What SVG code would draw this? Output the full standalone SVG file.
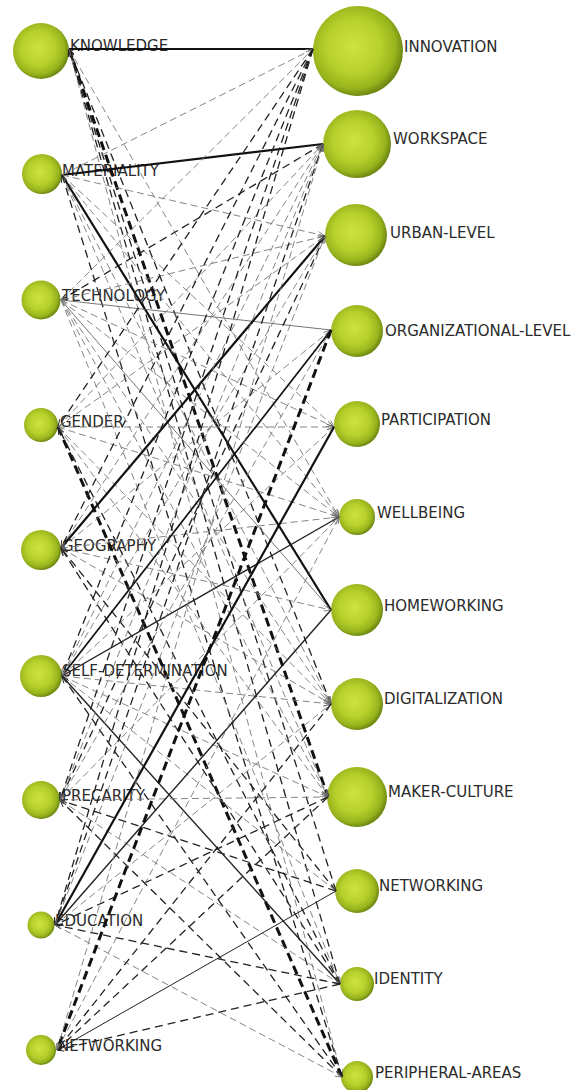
<svg xmlns="http://www.w3.org/2000/svg" width="580" height="1090" viewBox="0 0 580 1090">
  <defs>
    <radialGradient id="ball" cx="45%" cy="45%" r="55%">
      <stop offset="0" stop-color="#cfe340"/>
      <stop offset="0.55" stop-color="#b7d02c"/>
      <stop offset="0.85" stop-color="#98b41c"/>
      <stop offset="1" stop-color="#6f8a12"/>
    </radialGradient>
    <marker id="tipDark" viewBox="0 0 10 8" refX="10" refY="4" markerWidth="8" markerHeight="6" markerUnits="userSpaceOnUse" orient="auto">
      <path d="M0,0 L10,4 L0,8" fill="none" stroke="#222" stroke-width="1.2"/>
    </marker>
    <marker id="tipGray" viewBox="0 0 10 8" refX="10" refY="4" markerWidth="8" markerHeight="6" markerUnits="userSpaceOnUse" orient="auto">
      <path d="M0,0 L10,4 L0,8" fill="none" stroke="#666" stroke-width="1"/>
    </marker>
    <style>
      .node circle { fill: url(#ball); }
      .node text { font-family: "DejaVu Sans", Verdana, sans-serif; font-size: 15px; fill: #2b2b2b; }
      #connectors line { fill: none; }
      .a { stroke: #111; stroke-width: 2.2; }
      .b { stroke: #222; stroke-width: 1.4; }
      .c { stroke: #666; stroke-width: 0.9; }
      .d { stroke: #111; stroke-width: 3; stroke-dasharray: 9 5; }
      .e { stroke: #222; stroke-width: 1.3; stroke-dasharray: 8 5; marker-end: url(#tipDark); }
      .f { stroke: #777; stroke-width: 0.9; stroke-dasharray: 7 4; marker-end: url(#tipGray); }
    </style>
  </defs>

  <rect width="580" height="1090" fill="#ffffff"/>

  <!-- left column -->
  <g id="knowledge" class="node"><circle cx="41" cy="51" r="28"/><text x="70" y="51">KNOWLEDGE</text></g>
  <g id="materiality" class="node"><circle cx="42" cy="174" r="20"/><text x="62" y="176">MATERIALITY</text></g>
  <g id="technology" class="node"><circle cx="41" cy="300" r="19.5"/><text x="62" y="301">TECHNOLOGY</text></g>
  <g id="gender" class="node"><circle cx="41" cy="425" r="17"/><text x="60" y="427">GENDER</text></g>
  <g id="geography" class="node"><circle cx="41" cy="550" r="20"/><text x="62" y="551">GEOGRAPHY</text></g>
  <g id="self-determination" class="node"><circle cx="41" cy="676" r="21"/><text x="62" y="676">SELF-DETERMINATION</text></g>
  <g id="precarity" class="node"><circle cx="41" cy="800" r="19"/><text x="62" y="801">PRECARITY</text></g>
  <g id="education" class="node"><circle cx="41" cy="925" r="13.5"/><text x="55" y="926">EDUCATION</text></g>
  <g id="networking-left" class="node"><circle cx="41" cy="1050" r="15"/><text x="58" y="1051">NETWORKING</text></g>

  <!-- right column -->
  <g id="innovation" class="node"><circle cx="358" cy="51" r="45"/><text x="404" y="52">INNOVATION</text></g>
  <g id="workspace" class="node"><circle cx="357" cy="144" r="34"/><text x="393" y="144">WORKSPACE</text></g>
  <g id="urban-level" class="node"><circle cx="356" cy="235" r="31"/><text x="390" y="238">URBAN-LEVEL</text></g>
  <g id="organizational-level" class="node"><circle cx="357" cy="331" r="26"/><text x="385" y="336">ORGANIZATIONAL-LEVEL</text></g>
  <g id="participation" class="node"><circle cx="357" cy="424" r="23"/><text x="381" y="425">PARTICIPATION</text></g>
  <g id="wellbeing" class="node"><circle cx="357" cy="517" r="18"/><text x="377" y="518">WELLBEING</text></g>
  <g id="homeworking" class="node"><circle cx="357" cy="610" r="26"/><text x="384" y="611">HOMEWORKING</text></g>
  <g id="digitalization" class="node"><circle cx="357" cy="704" r="26"/><text x="384" y="704">DIGITALIZATION</text></g>
  <g id="maker-culture" class="node"><circle cx="357" cy="797" r="30"/><text x="388" y="797">MAKER-CULTURE</text></g>
  <g id="networking-right" class="node"><circle cx="357" cy="891" r="22"/><text x="379" y="891">NETWORKING</text></g>
  <g id="identity" class="node"><circle cx="357" cy="984" r="17"/><text x="374" y="984">IDENTITY</text></g>
  <g id="peripheral-areas" class="node"><circle cx="357" cy="1077" r="16"/><text x="375" y="1078">PERIPHERAL-AREAS</text></g>

  <g id="connectors">
    <!-- knowledge -->
    <line class="a" x1="69" y1="49" x2="313" y2="49"/>
    <line class="f" x1="69" y1="49" x2="339" y2="517"/>
    <line class="e" x1="331" y1="704" x2="69" y2="49"/>
    <line class="d" x1="69" y1="49" x2="328" y2="797"/>
    <line class="e" x1="336" y1="891" x2="69" y2="49"/>
    <line class="e" x1="340" y1="984" x2="69" y2="49"/>
    <line class="f" x1="69" y1="49" x2="342" y2="1077"/>
    <!-- materiality -->
    <line class="a" x1="62" y1="175" x2="323" y2="144"/>
    <line class="a" x1="62" y1="175" x2="331" y2="610"/>
    <line class="f" x1="62" y1="175" x2="313" y2="49"/>
    <line class="f" x1="62" y1="175" x2="325" y2="236"/>
    <line class="f" x1="62" y1="175" x2="334" y2="427"/>
    <line class="f" x1="62" y1="175" x2="339" y2="517"/>
    <line class="f" x1="62" y1="175" x2="331" y2="704"/>
    <line class="f" x1="62" y1="175" x2="328" y2="797"/>
    <line class="e" x1="342" y1="1077" x2="62" y2="175"/>
    <!-- technology -->
    <line class="c" x1="61" y1="300" x2="331" y2="330"/>
    <line class="e" x1="323" y1="144" x2="61" y2="300"/>
    <line class="f" x1="61" y1="300" x2="313" y2="49"/>
    <line class="f" x1="61" y1="300" x2="325" y2="236"/>
    <line class="f" x1="61" y1="300" x2="334" y2="427"/>
    <line class="f" x1="61" y1="300" x2="339" y2="517"/>
    <line class="c" x1="61" y1="300" x2="331" y2="610"/>
    <line class="f" x1="61" y1="300" x2="331" y2="704"/>
    <line class="f" x1="61" y1="300" x2="328" y2="797"/>
    <line class="f" x1="61" y1="300" x2="340" y2="984"/>
    <!-- gender -->
    <line class="d" x1="58" y1="427" x2="342" y2="1077"/>
    <line class="f" x1="58" y1="427" x2="334" y2="427"/>
    <line class="e" x1="313" y1="49" x2="58" y2="427"/>
    <line class="f" x1="58" y1="427" x2="323" y2="144"/>
    <line class="f" x1="58" y1="427" x2="325" y2="236"/>
    <line class="f" x1="58" y1="427" x2="339" y2="517"/>
    <line class="f" x1="58" y1="427" x2="331" y2="704"/>
    <line class="f" x1="58" y1="427" x2="328" y2="797"/>
    <line class="e" x1="340" y1="984" x2="58" y2="427"/>
    <!-- geography -->
    <line class="a" x1="61" y1="548" x2="325" y2="236"/>
    <line class="e" x1="313" y1="49" x2="61" y2="548"/>
    <line class="f" x1="61" y1="548" x2="323" y2="144"/>
    <line class="f" x1="61" y1="548" x2="331" y2="330"/>
    <line class="f" x1="61" y1="548" x2="339" y2="517"/>
    <line class="f" x1="61" y1="548" x2="331" y2="610"/>
    <line class="f" x1="61" y1="548" x2="331" y2="704"/>
    <line class="e" x1="336" y1="891" x2="61" y2="548"/>
    <line class="e" x1="340" y1="984" x2="61" y2="548"/>
    <!-- self-determination -->
    <line class="a" x1="62" y1="676" x2="331" y2="330" style="stroke-width:1.7"/>
    <line class="b" x1="62" y1="676" x2="339" y2="517"/>
    <line class="b" x1="62" y1="676" x2="340" y2="984"/>
    <line class="e" x1="313" y1="49" x2="62" y2="676"/>
    <line class="f" x1="62" y1="676" x2="323" y2="144"/>
    <line class="f" x1="62" y1="676" x2="325" y2="236"/>
    <line class="f" x1="62" y1="676" x2="334" y2="427"/>
    <line class="f" x1="62" y1="676" x2="331" y2="704"/>
    <line class="f" x1="62" y1="676" x2="328" y2="797"/>
    <line class="f" x1="62" y1="676" x2="336" y2="891"/>
    <line class="e" x1="342" y1="1077" x2="62" y2="676"/>
    <!-- precarity -->
    <line class="f" x1="60" y1="800" x2="328" y2="797"/>
    <line class="e" x1="336" y1="891" x2="60" y2="800"/>
    <line class="e" x1="313" y1="49" x2="60" y2="800"/>
    <line class="f" x1="60" y1="800" x2="323" y2="144"/>
    <line class="e" x1="325" y1="236" x2="60" y2="800"/>
    <line class="f" x1="60" y1="800" x2="331" y2="330"/>
    <line class="f" x1="60" y1="800" x2="339" y2="517"/>
    <line class="e" x1="342" y1="1077" x2="60" y2="800"/>
    <line class="f" x1="60" y1="800" x2="340" y2="984"/>
    <!-- education -->
    <line class="a" x1="55" y1="925" x2="334" y2="427"/>
    <line class="b" x1="55" y1="925" x2="331" y2="610"/>
    <line class="e" x1="328" y1="797" x2="55" y2="925"/>
    <line class="e" x1="313" y1="49" x2="55" y2="925"/>
    <line class="e" x1="323" y1="144" x2="55" y2="925"/>
    <line class="f" x1="55" y1="925" x2="325" y2="236"/>
    <line class="f" x1="55" y1="925" x2="331" y2="704"/>
    <line class="e" x1="340" y1="984" x2="55" y2="925"/>
    <line class="f" x1="55" y1="925" x2="342" y2="1077"/>
    <!-- networking (left) -->
    <line class="d" x1="331" y1="330" x2="57" y2="1050" style="marker-end:url(#tipDark)"/>
    <line class="b" x1="57" y1="1050" x2="336" y2="891" style="stroke-width:1"/>
    <line class="e" x1="340" y1="984" x2="57" y2="1050"/>
    <line class="e" x1="328" y1="797" x2="57" y2="1050"/>
    <line class="e" x1="331" y1="704" x2="57" y2="1050"/>
    <line class="f" x1="57" y1="1050" x2="323" y2="144"/>
    <line class="f" x1="57" y1="1050" x2="339" y2="517"/>
  </g>
</svg>
